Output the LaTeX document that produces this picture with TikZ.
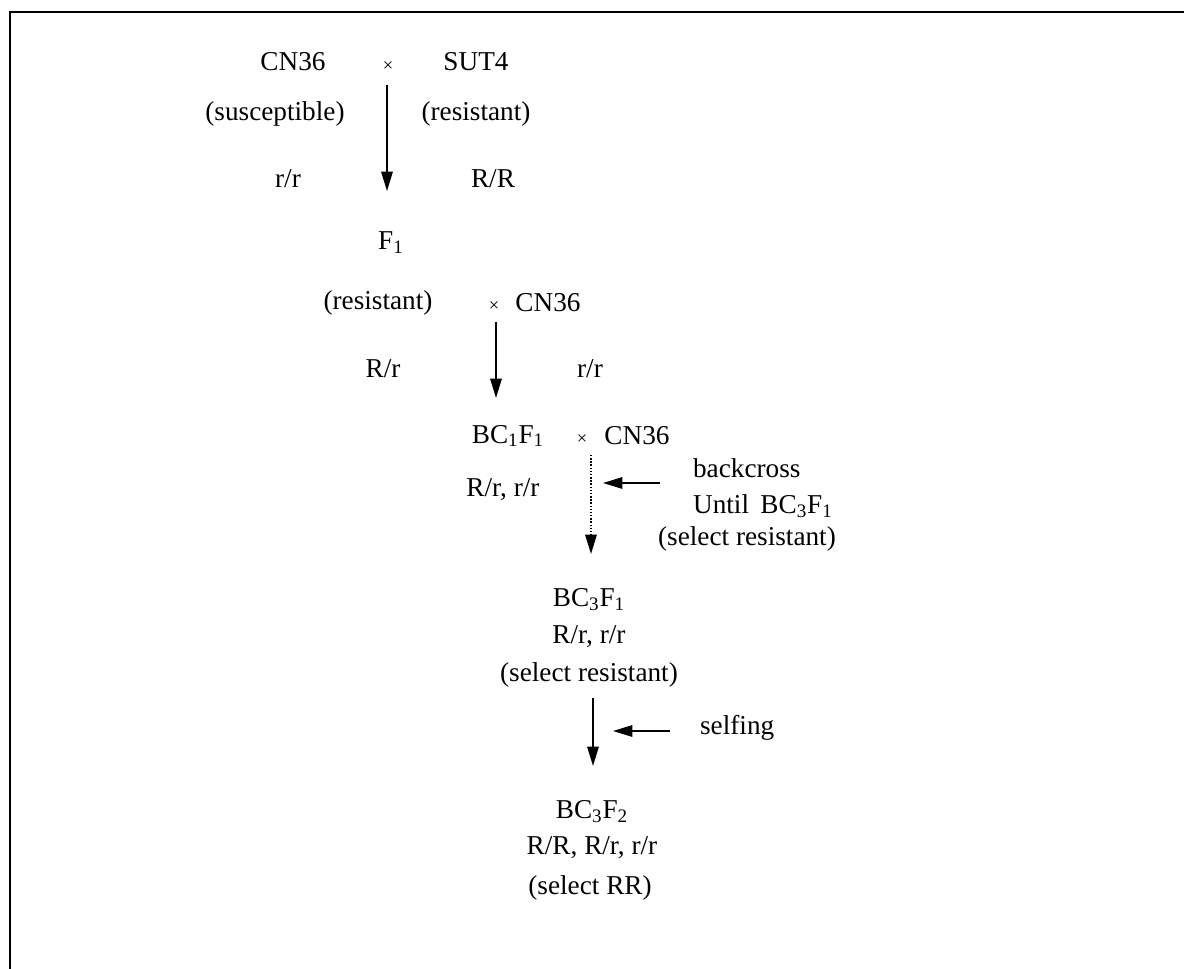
\documentclass[tikz,border=0pt]{standalone}
\usepackage{fontspec}
\setmainfont{Liberation Serif}
\usetikzlibrary{arrows.meta}

\begin{document}
\begin{tikzpicture}[x=0.02cm, y=-0.02cm]
        \useasboundingbox (0,0) rectangle (1184,969);
        \draw[line width=1.1pt] (10,969) -- (10,12) -- (1184,12);

        \begin{scope}[every node/.style = {inner sep=1pt, font=\fontsize{15.5}{18}\selectfont}]
            \node (P1) at (293, 62)  {CN36};
            \node[font=\fontsize{10.5}{10}\selectfont] (X1) at (388, 67) {×};
            \node (P2) at (476, 62)  {SUT4};
            \node (S1) at (275, 114) {(susceptible)};
            \node (S2) at (476, 114) {(resistant)};
            \node (G1) at (288, 179) {r/r};
            \node (G2) at (493, 179) {R/R};

            \node (F) at (391, 243)  {F\textsubscript{1}};

            \node (S3) at (378, 303) {(resistant)};
            \node[font=\fontsize{10.5}{10}\selectfont] (X2) at (494, 307) {×};
            \node (P3) at (548, 303) {CN36};
            \node (G3) at (383, 369) {R/r};
            \node (G4) at (590, 369) {r/r};

            \node (B1) at (508, 436) {BC\textsubscript{1}F\textsubscript{1}};
            \node[font=\fontsize{10.5}{10}\selectfont] (X3) at (582, 440) {×};
            \node (P4) at (637, 436) {CN36};
            \node (G5) at (503, 490) {R/r, r/r};

            \node[anchor=west] (T1) at (691, 468) {backcross};
            \node[anchor=west] (T2) at (691, 506) {Until\, BC\textsubscript{3}F\textsubscript{1}};
            \node (T3) at (747, 539) {(select resistant)};

            \node (B3) at (589, 600) {BC\textsubscript{3}F\textsubscript{1}};
            \node (G6) at (589, 637) {R/r, r/r};
            \node (S4) at (589, 675) {(select resistant)};

            \node[anchor=west] (T4) at (698, 728) {selfing};

            \node (B4) at (592, 812) {BC\textsubscript{3}F\textsubscript{2}};
            \node (G7) at (592, 848) {R/R, R/r, r/r};
            \node (S5) at (590, 888) {(select RR)};
        \end{scope}

        \coordinate (a1) at (387, 85);   \coordinate (a1e) at (387, 191);
        \coordinate (a2) at (496, 322);  \coordinate (a2e) at (496, 398);
        \coordinate (a3) at (591, 455);  \coordinate (a3e) at (591, 554);
        \coordinate (a4) at (593, 698);  \coordinate (a4e) at (593, 766);
        \coordinate (h1) at (660, 483);  \coordinate (h1e) at (603, 483);
        \coordinate (h2) at (670, 731);  \coordinate (h2e) at (613, 731);

        \begin{scope}[>={Triangle[length=11pt,width=6.5pt]}, line width=0.95pt]
            \draw[->] (a1) -- (a1e);
            \draw[->] (a2) -- (a2e);
            \draw[->, dash pattern=on 0.8pt off 1pt] (a3) -- (a3e);
            \draw[->] (a4) -- (a4e);
            \draw[->] (h1) -- (h1e);
            \draw[->] (h2) -- (h2e);
        \end{scope}
    \end{tikzpicture}
\end{document}
